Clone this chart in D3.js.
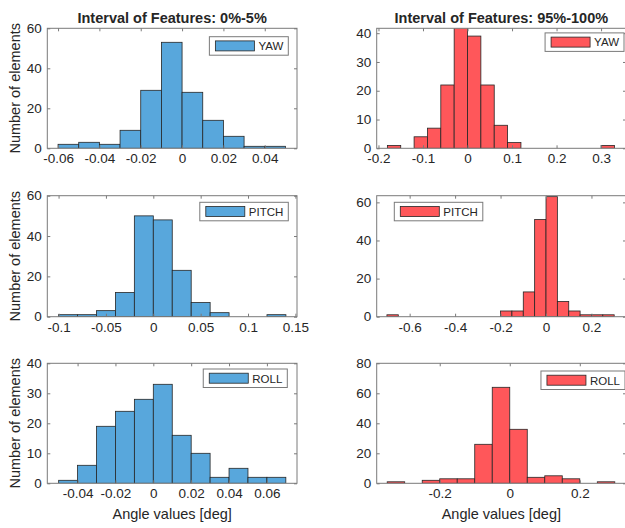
<!DOCTYPE html>
<html>
<head>
<meta charset="utf-8">
<script src="https://cdn.jsdelivr.net/npm/d3@7"></script>
<style>
  body { margin: 0; background: #fff; }
  text { font-family: "Liberation Sans", Arial, sans-serif; fill: #262626; }
</style>
</head>
<body>
<svg id="chart" width="625" height="528"></svg>
<script>
// ---- data ----
const titles = ["Interval of Features: 0%-5%", "Interval of Features: 95%-100%"];

const yawLowEdges   = [-0.06, -0.05, -0.04, -0.03, -0.02, -0.01, 0, 0.01, 0.02, 0.03, 0.04, 0.05];
const yawLowCounts  = [2, 3, 2, 9, 29, 53, 28, 14, 6, 1, 1];

const yawHighEdges  = [-0.18, -0.15, -0.12, -0.09, -0.06, -0.03, 0, 0.03, 0.06, 0.09, 0.12, 0.15, 0.18, 0.21, 0.24, 0.27, 0.30, 0.33];
const yawHighCounts = [1, 0, 4, 7, 22, 42, 39, 22, 8, 2, 0, 0, 0, 0, 0, 0, 1];

const pitchLowEdges  = [-0.1, -0.08, -0.06, -0.04, -0.02, 0, 0.02, 0.04, 0.06, 0.08, 0.1, 0.12, 0.14];
const pitchLowCounts = [1, 1, 3, 12, 50, 48, 23, 7, 2, 0, 0, 1];

const pitchHighEdges  = [-0.7, -0.65, -0.6, -0.55, -0.5, -0.45, -0.4, -0.35, -0.3, -0.25, -0.2, -0.15, -0.1, -0.05, 0, 0.05, 0.1, 0.15, 0.2, 0.25, 0.3];
const pitchHighCounts = [1, 0, 0, 0, 0, 0, 0, 0, 0, 0, 3, 3, 13, 51, 63, 8, 3, 1, 1, 1];

const rollLowEdges  = [-0.05, -0.04, -0.03, -0.02, -0.01, 0, 0.01, 0.02, 0.03, 0.04, 0.05, 0.06, 0.07];
const rollLowCounts = [1, 6, 19, 24, 28, 33, 16, 10, 2, 5, 2, 2];

const rollHighEdges  = [-0.35, -0.3, -0.25, -0.2, -0.15, -0.1, -0.05, 0, 0.05, 0.1, 0.15, 0.2, 0.25, 0.3];
const rollHighCounts = [1, 0, 2, 3, 3, 26, 64, 36, 4, 5, 3, 0, 1];

const yawLowXTicks = [-0.06, -0.04, -0.02, 0, 0.02, 0.04];
const yawHighXTicks = [-0.2, -0.1, 0, 0.1, 0.2, 0.3];
const pitchLowXTicks = [-0.1, -0.05, 0, 0.05, 0.1, 0.15];
const pitchHighXTicks = [-0.6, -0.4, -0.2, 0, 0.2];
const rollLowXTicks = [-0.04, -0.02, 0, 0.02, 0.04, 0.06];
const rollHighXTicks = [-0.2, 0, 0.2];

const blue = "#58a7dc", red = "#ff575a";

// ---- layout ----
const cols = [[47.3, 297], [376.7, 626]];
const rows = [[28.3, 148.3], [195.7, 316.7], [363.3, 483.3]];

const panels = [
  { row: 0, col: 0, edges: yawLowEdges, counts: yawLowCounts, color: blue, label: "YAW",
    xd: [-0.0652, 0.0556], yd: [0, 60], xt: yawLowXTicks, yt: [0, 20, 40, 60], leg: ["ne", 8.7, 8.4] },
  { row: 0, col: 1, edges: yawHighEdges, counts: yawHighCounts, color: red, label: "YAW",
    xd: [-0.204, 0.356], yd: [0, 41.7], xt: yawHighXTicks, yt: [0, 10, 20, 30, 40], leg: ["ne", 2, 4.6] },
  { row: 1, col: 0, edges: pitchLowEdges, counts: pitchLowCounts, color: blue, label: "PITCH",
    xd: [-0.1119, 0.1517], yd: [0, 60], xt: pitchLowXTicks, yt: [0, 20, 40, 60], leg: ["ne", 8.7, 6.6] },
  { row: 1, col: 1, edges: pitchHighEdges, counts: pitchHighCounts, color: red, label: "PITCH",
    xd: [-0.745, 0.352], yd: [0, 63.5], xt: pitchHighXTicks, yt: [0, 20, 40, 60], leg: ["nw", 17.6, 6.6] },
  { row: 2, col: 0, edges: rollLowEdges, counts: rollLowCounts, color: blue, label: "ROLL",
    xd: [-0.056, 0.0759], yd: [0, 40], xt: rollLowXTicks, yt: [0, 10, 20, 30, 40], leg: ["ne", 9.7, 5.7] },
  { row: 2, col: 1, edges: rollHighEdges, counts: rollHighCounts, color: red, label: "ROLL",
    xd: [-0.38, 0.332], yd: [0, 80], xt: rollHighXTicks, yt: [0, 20, 40, 60, 80], leg: ["ne", 1, 7.7] }
];

const svg = d3.select("#chart");
const boxColor = "#7a7a7a";

panels.forEach((p, i) => {
  const [x0, x1] = cols[p.col], [y0, y1] = rows[p.row];
  const w = x1 - x0, h = y1 - y0;
  const g = svg.append("g").attr("transform", `translate(${x0},${y0})`);

  const x = d3.scaleLinear().domain(p.xd).range([0, w]);
  const y = d3.scaleLinear().domain(p.yd).range([h, 0]);

  g.append("clipPath").attr("id", "clip" + i)
    .append("rect").attr("width", w).attr("height", h);

  const bins = p.counts.map((c, k) => ({ a: p.edges[k], b: p.edges[k + 1], c }))
    .filter(d => d.c > 0);

  // Bars
  g.append("g").attr("clip-path", `url(#clip${i})`)
    .selectAll("rect")
    .data(bins)
    .enter()
    .append("rect")
    .attr("x", d => x(d.a))
    .attr("width", d => x(d.b) - x(d.a))
    .attr("y", d => y(d.c))
    .attr("height", d => y(0) - y(d.c))
    .attr("fill", p.color)
    .attr("stroke", "#262626")
    .attr("stroke-width", 0.8);

  // Axes (ticks point inward, matlab style)
  const fmt = d => String(d);
  const bottom = g.append("g").attr("transform", `translate(0,${h})`)
    .call(d3.axisBottom(x).tickValues(p.xt).tickFormat(fmt).tickSize(-3).tickPadding(5.5));
  const top = g.append("g")
    .call(d3.axisTop(x).tickValues(p.xt).tickFormat("").tickSize(-3));
  const left = g.append("g")
    .call(d3.axisLeft(y).tickValues(p.yt).tickFormat(fmt).tickSize(-3).tickPadding(5.5));
  const right = g.append("g").attr("transform", `translate(${w},0)`)
    .call(d3.axisRight(y).tickValues(p.yt).tickFormat("").tickSize(-3));

  [bottom, top, left, right].forEach(a => {
    a.select(".domain").remove();
    a.selectAll("line").attr("stroke", boxColor);
    a.selectAll("text").attr("font-size", "13.5px").attr("fill", "#262626")
      .attr("font-family", '"Liberation Sans", Arial, sans-serif');
  });
  left.selectAll("text").attr("dy", "0.3em");

  g.append("rect")
    .attr("width", w).attr("height", h)
    .attr("fill", "none")
    .attr("stroke", boxColor)
    .attr("stroke-width", 1);

  // Legend
  const leg = g.append("g");
  const legRect = leg.append("rect").attr("fill", "#fff").attr("stroke", boxColor).attr("stroke-width", 1);
  leg.append("rect").attr("x", 6).attr("y", 4.2).attr("width", 39).attr("height", 10)
    .attr("fill", p.color).attr("stroke", "#262626").attr("stroke-width", 0.8);
  const lt = leg.append("text").attr("x", 49).attr("y", 13.5)
    .attr("font-size", "11.5px").text(p.label);
  const lw = 49 + lt.node().getComputedTextLength() + 5, lh = 18.5;
  legRect.attr("width", lw).attr("height", lh);
  const lx = p.leg[0] === "ne" ? w - p.leg[1] - lw : p.leg[1];
  leg.attr("transform", `translate(${lx},${p.leg[2]})`);

  // Y label on left column
  if (p.col === 0) {
    g.append("text")
      .attr("transform", "rotate(-90)")
      .attr("x", -h / 2)
      .attr("y", 19.5 - x0)
      .attr("text-anchor", "middle")
      .attr("font-size", "14.5px")
      .text("Number of elements");
  }

  // X label on bottom row
  if (p.row === 2) {
    g.append("text")
      .attr("x", w / 2)
      .attr("y", h + 36)
      .attr("text-anchor", "middle")
      .attr("font-size", "14.5px")
      .text("Angle values [deg]");
  }

  // Titles on top row
  if (p.row === 0) {
    g.append("text")
      .attr("x", w / 2)
      .attr("y", -5.5)
      .attr("text-anchor", "middle")
      .attr("font-size", "14.5px")
      .attr("font-weight", "bold")
      .attr("fill", "#000")
      .text(titles[p.col]);
  }
});
</script>
</body>
</html>
